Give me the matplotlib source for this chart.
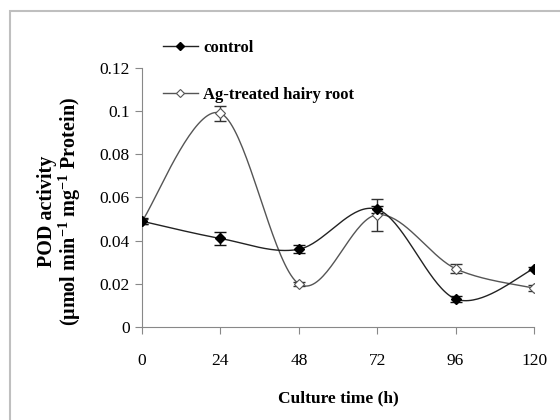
import numpy as np
import matplotlib as mpl
import matplotlib.pyplot as plt
from matplotlib.patches import Rectangle

mpl.use('Agg')

plt.rcParams['font.family'] = ['Liberation Serif', 'DejaVu Serif']
plt.rcParams['mathtext.fontset'] = 'custom'
plt.rcParams['mathtext.rm'] = 'Liberation Serif'
plt.rcParams['mathtext.bf'] = 'Liberation Serif:bold'

# Culture time (h)
hours = [0, 24, 48, 72, 96, 120]

# POD activity
control = [0.049, 0.041, 0.036, 0.0545, 0.013, 0.027]
control_err = [0.0015, 0.0028, 0.0018, 0.0015, 0.0015, 0.0008]
ag_treated = [0.049, 0.099, 0.020, 0.052, 0.027, 0.018]
ag_err = [0.0012, 0.0035, 0.0008, 0.0075, 0.002, 0.0015]

x_ticks = [0, 24, 48, 72, 96, 120]
y_ticks = [0, 0.02, 0.04, 0.06, 0.08, 0.1, 0.12]
y_labels = ['0', '0.02', '0.04', '0.06', '0.08', '0.1', '0.12']


# Excel style smoothed line (Catmull-Rom segments drawn as Bezier curves)
def smooth(xs, ys, steps=40):
    xs = np.asarray(xs, float)
    ys = np.asarray(ys, float)
    px = np.concatenate(([xs[0]], xs, [xs[-1]]))
    py = np.concatenate(([ys[0]], ys, [ys[-1]]))
    out_x, out_y = [], []
    t = np.linspace(0, 1, steps)
    for i in range(1, len(px) - 2):
        p0 = np.array([px[i], py[i]])
        p3 = np.array([px[i + 1], py[i + 1]])
        c1 = p0 + (np.array([px[i + 1], py[i + 1]]) - np.array([px[i - 1], py[i - 1]])) / 6
        c2 = p3 - (np.array([px[i + 2], py[i + 2]]) - np.array([px[i], py[i]])) / 6
        b = ((1 - t) ** 3)[:, None] * p0 + (3 * (1 - t) ** 2 * t)[:, None] * c1 \
            + (3 * (1 - t) * t ** 2)[:, None] * c2 + (t ** 3)[:, None] * p3
        out_x.extend(b[:, 0])
        out_y.extend(b[:, 1])
    return out_x, out_y


fig = plt.figure(figsize=(5.6, 4.2), dpi=100)
ax = fig.add_axes([0.2536, 0.2214, 0.7, 0.617])

# gray frame round the chart
fig.patches.append(Rectangle((9.5 / 560, -0.1), 1.2, 1 - 10.5 / 420 + 0.1, transform=fig.transFigure,
                             fill=False, edgecolor='#bfbfbf', linewidth=1.5, clip_on=False))

sx, sy = smooth(hours, ag_treated)
ax.plot(sx, sy, color='#555555', linewidth=1.0, zorder=2)
sx, sy = smooth(hours, control)
ax.plot(sx, sy, color='#222222', linewidth=1.0, zorder=2)

ax.errorbar(hours, ag_treated, yerr=ag_err, fmt='none', ecolor='#333333', elinewidth=1, capsize=4, capthick=1, zorder=3)
ax.errorbar(hours, control, yerr=control_err, fmt='none', ecolor='#111111', elinewidth=1, capsize=4, capthick=1, zorder=3)
ax.plot(hours, ag_treated, linestyle='none', marker='D', markersize=5, markerfacecolor='white',
        markeredgecolor='#555555', markeredgewidth=0.8, zorder=4)
ax.plot(hours, control, linestyle='none', marker='D', markersize=5, markerfacecolor='black',
        markeredgecolor='black', zorder=5)

# legend handles
h1, = ax.plot([], [], color='#222222', linewidth=1.0, marker='D', markersize=4.5, markerfacecolor='black',
              markeredgecolor='black')
h2, = ax.plot([], [], color='#555555', linewidth=1.0, marker='D', markersize=4.5, markerfacecolor='white',
              markeredgecolor='#555555', markeredgewidth=0.8)
fig.legend([h1, h2], ['control', 'Ag-treated hairy root'], loc='upper left', bbox_to_anchor=(0.291, 0.905),
           frameon=False, borderpad=0, borderaxespad=0, handlelength=2.1, handletextpad=0.3,
           labelspacing=1.85, prop={'weight': 'bold', 'size': 12})

ax.set_xlim(0, 120)
ax.set_ylim(0, 0.12)
ax.set_xticks(x_ticks)
ax.set_xticklabels([str(v) for v in x_ticks])
ax.set_yticks(y_ticks)
ax.set_yticklabels(y_labels)
ax.tick_params(axis='both', direction='out', length=5, color='#888888', labelsize=12.5)
ax.tick_params(axis='x', pad=14)
ax.tick_params(axis='y', pad=4)

for side in ['top', 'right']:
    ax.spines[side].set_visible(False)
for side in ['left', 'bottom']:
    ax.spines[side].set_color('#888888')

fig.text(338 / 560, 1 - 398 / 420, 'Culture time (h)', fontsize=12.5, fontweight='bold',
         ha='center', va='center')
fig.text(60 / 560, 1 - 211 / 420,
         'POD activity\n' + r'(μmol min$^{\mathbf{-1}}$ mg$^{\mathbf{-1}}$ Protein)',
         fontsize=14.5, fontweight='bold', rotation=90, ha='center', va='center',
         multialignment='center', linespacing=1.0)

fig.savefig('out.png', dpi=100)
